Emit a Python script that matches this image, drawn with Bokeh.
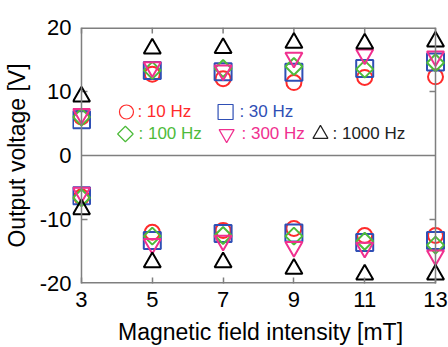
import math
from bokeh.plotting import figure
from bokeh.models import Span, FixedTicker, ColumnDataSource, Range1d
from bokeh.core.properties import value
from bokeh.embed import file_html
from bokeh.resources import INLINE

# ---- data ----
field_mT = [3, 5, 7, 9, 11, 13]

pos_10hz = [6.0, 12.7, 12.0, 11.4, 12.2, 12.3]
pos_30hz = [5.6, 13.3, 13.1, 13.0, 13.6, 14.6]
pos_100hz = [6.0, 13.3, 13.6, 13.9, 13.5, 14.5]
pos_300hz = [6.5, 13.8, 13.3, 15.3, 15.8, 15.5]
pos_1000hz = [9.2, 16.7, 16.8, 17.6, 17.5, 17.8]

neg_10hz = [-6.5, -12.0, -11.7, -11.4, -12.5, -12.5]
neg_30hz = [-6.3, -13.3, -12.2, -12.1, -13.6, -13.3]
neg_100hz = [-6.6, -12.6, -12.5, -12.6, -13.4, -14.0]
neg_300hz = [-5.8, -13.8, -13.3, -14.3, -14.4, -15.6]
neg_1000hz = [-8.4, -16.7, -16.7, -17.7, -18.6, -18.6]

x_ticks = [3, 5, 7, 9, 11, 13]
y_ticks = [-20, -10, 0, 10, 20]
y_tick_labels = ["-20", "-10", "0", "10", "20"]

legend_labels = [": 10 Hz", ": 30 Hz", ": 100 Hz", ": 300 Hz", ": 1000 Hz"]

RED = "#ff2b2b"
BLUE = "#2f4fb5"
GREEN = "#4dbb3a"
PINK = "#f0308f"
BLACK = "#000000"
GREY = "#7f7f7f"
FONT = "Liberation Sans"

X0, X1 = x_ticks[0], x_ticks[-1]
Y0, Y1 = y_ticks[0], y_ticks[-1]

# frame spans page x 72..448, data 3 -> x=81, 13 -> x=435
p = figure(width=448, height=347, x_range=Range1d(2.746, 13.367), y_range=Range1d(Y0, Y1),
           output_backend="svg", toolbar_location=None,
           min_border_left=72, min_border_right=0, min_border_top=27, min_border_bottom=64)
p.outline_line_color = None
p.grid.visible = False
p.background_fill_color = "white"
p.border_fill_color = "white"

for ax in (p.xaxis[0], p.yaxis[0]):
    ax.axis_line_color = None
    ax.major_tick_line_color = GREY
    ax.major_tick_line_width = 1.5
    ax.major_tick_in = 6
    ax.major_tick_out = 0
    ax.minor_tick_line_color = None
    ax.major_label_text_font = FONT
    ax.major_label_text_font_size = "22px"
    ax.major_label_text_color = "black"
    ax.axis_label_text_font = FONT
    ax.axis_label_text_font_size = "23px"
    ax.axis_label_text_font_style = "normal"
    ax.axis_label_text_color = "black"

p.xaxis.ticker = FixedTicker(ticks=x_ticks)
p.xaxis.major_label_standoff = 8
p.xaxis.axis_label = "Magnetic field intensity [mT]"
p.xaxis.axis_label_standoff = 9
p.yaxis.ticker = FixedTicker(ticks=y_ticks)
p.yaxis.major_label_overrides = {t: s for t, s in zip(y_ticks, y_tick_labels)}
p.yaxis.major_tick_line_color = None
p.yaxis.major_label_standoff = 1
p.yaxis.axis_label = "Output voltage [V]"
p.yaxis.axis_label_standoff = 7

# box spines: top and bottom at frame edges (half clipped -> 1.5px)
p.ray(x=[X0, X0], y=[Y1, Y0], length=X1 - X0, angle=0, line_color=GREY, line_width=3)
# left and right spines
p.add_layout(Span(location=X0, dimension="height", line_color=GREY, line_width=1.5))
p.add_layout(Span(location=X1, dimension="height", line_color=GREY, line_width=1.5))
# inward ticks on top, left and right spines
p.ray(x=x_ticks, y=[Y1] * len(x_ticks), length=6, length_units="screen", angle=-math.pi / 2,
      line_color=GREY, line_width=1.5)
p.ray(x=[X1] * 2, y=[10, -10], length=6, length_units="screen", angle=math.pi,
      line_color=GREY, line_width=1.5)
p.ray(x=[X0] * 2, y=[10, -10], length=6, length_units="screen", angle=0,
      line_color=GREY, line_width=1.5)
# zero line
p.ray(x=[X0], y=[0], length=X1 - X0, angle=0, line_color=GREY, line_width=1.5)

series = [
    ("circle", 0, RED, pos_10hz, neg_10hz, 15),
    ("square", 0, BLUE, pos_30hz, neg_30hz, 17),
    ("square", math.pi / 4, GREEN, pos_100hz, neg_100hz, 12),
    ("inverted_triangle", 0, PINK, pos_300hz, neg_300hz, 17),
    ("triangle", 0, BLACK, pos_1000hz, neg_1000hz, 17),
]
for marker, ang, color, pos, neg, size in series:
    for vals in (pos, neg):
        p.scatter(x=field_mT, y=vals, marker=marker, angle=ang, size=size, line_color=color,
                  line_width=2, fill_color=None)

# in-plot legend: symbols + texts
leg_y = [6.8, 6.8, 3.36, 3.36, 3.36]
leg_sym_x = [4.27, 7.07, 4.24, 7.10, 9.75]
leg_txt_x = [4.58, 7.46, 4.61, 7.52, 10.09]
leg_colors = [RED, BLUE, GREEN, PINK, "#222222"]
leg_markers = ["circle", "square", "square", "inverted_triangle", "triangle"]
leg_angles = [0, 0, math.pi / 4, 0, 0]
leg_sizes = [14, 15, 11, 15, 15]
leg = ColumnDataSource(dict(sx=leg_sym_x, tx=leg_txt_x, y=leg_y, text=legend_labels,
                            color=leg_colors, marker=leg_markers, angle=leg_angles,
                            size=leg_sizes))
p.scatter(x="sx", y="y", marker="marker", angle="angle", size="size", line_color="color",
          line_width=1.2, fill_color=None, source=leg)
p.text(x="tx", y="y", text="text", text_color="color", source=leg, text_font=value(FONT),
       text_font_size="17px", text_baseline="middle", text_align="left")

open("out.html", "w").write(file_html(p, INLINE))
